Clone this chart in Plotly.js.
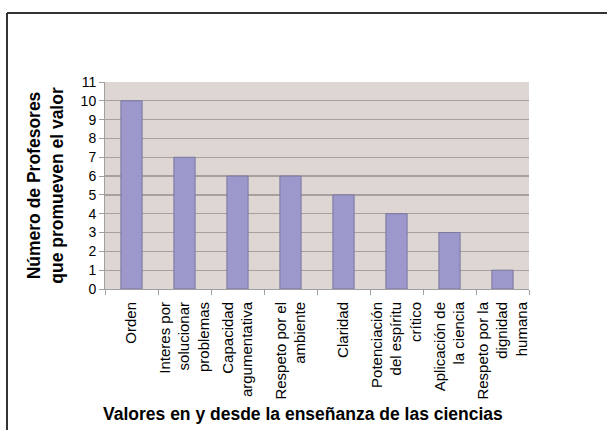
<!DOCTYPE html>
<html>
<head>
<meta charset="utf-8">
<script src="https://cdn.plot.ly/plotly-3.0.1.min.js"></script>
<style>
html, body { margin: 0; padding: 0; background: #ffffff; }
#chart { width: 607px; height: 430px; }
</style>
</head>
<body>
<div id="chart"></div>
<script>
const categories = [
  "Orden",
  "Interes por<br>solucionar<br>problemas",
  "Capacidad<br>argumentativa",
  "Respeto por el<br>ambiente",
  "Claridad",
  "Potenciación<br>del espíritu<br>crítico",
  "Aplicación de<br>la ciencia",
  "Respeto por la<br>dignidad<br>humana"
];
const profesores = [10, 7, 6, 6, 5, 4, 3, 1];
const yTicks = [0, 1, 2, 3, 4, 5, 6, 7, 8, 9, 10, 11];

const W = 607, H = 430;
const L = 105, R = 78, T = 82, B = 141;
const pw = W - L - R, ph = H - T - B;
const px = v => (v - L) / pw;
const py = v => (H - B - v) / ph;

const trace = {
  type: 'bar',
  x: categories,
  y: profesores,
  marker: { color: '#9c98cb', line: { color: '#7b779f', width: 1 } },
  hoverinfo: 'skip'
};

const layout = {
  width: W, height: H,
  margin: { l: L, r: R, t: T, b: B, pad: 0 },
  paper_bgcolor: '#ffffff',
  plot_bgcolor: '#ddd6d3',
  showlegend: false,
  bargap: 0.6,
  font: { family: 'Liberation Sans, Arial, sans-serif', color: '#000000' },
  xaxis: {
    type: 'category',
    tickangle: -90,
    tickson: 'boundaries',
    ticks: 'outside', ticklen: 5, tickcolor: '#a0a0a0',
    ticklabelstandoff: 6,
    showline: true, linecolor: '#a0a0a0', linewidth: 1,
    showgrid: false,
    tickfont: { size: 15, family: 'Liberation Sans, Arial, sans-serif', color: '#000' },
    automargin: false
  },
  yaxis: {
    range: [0, 11],
    tickvals: yTicks,
    ticktext: yTicks.map(String),
    ticks: 'outside', ticklen: 5, tickcolor: '#a0a0a0',
    showline: true, linecolor: '#a0a0a0', linewidth: 1,
    showgrid: true, gridcolor: '#a8a0a0', gridwidth: 1.2,
    zeroline: false,
    tickfont: { size: 14, family: 'Liberation Sans, Arial, sans-serif', color: '#000' },
    title: {
      text: '<b>Número de Profesores<br>que promueven el valor</b>',
      font: { size: 17.5, family: 'Liberation Sans, Arial, sans-serif', color: '#000' },
      standoff: 12
    },
    automargin: false
  },
  annotations: [{
    xref: 'paper', yref: 'paper',
    x: px(303), y: py(414),
    xanchor: 'center', yanchor: 'middle',
    showarrow: false,
    text: '<b>Valores en y desde la enseñanza de las ciencias</b>',
    font: { size: 17.5, family: 'Liberation Sans, Arial, sans-serif', color: '#000' }
  }],
  shapes: [
    { type: 'line', xref: 'paper', yref: 'paper', x0: px(7), x1: px(7), y0: py(13), y1: py(440), line: { color: '#333333', width: 2 } },
    { type: 'line', xref: 'paper', yref: 'paper', x0: px(7), x1: px(620), y0: py(13), y1: py(13), line: { color: '#333333', width: 2 } }
  ]
};

Plotly.newPlot('chart', [trace], layout, { displayModeBar: false, staticPlot: true });
</script>
</body>
</html>
